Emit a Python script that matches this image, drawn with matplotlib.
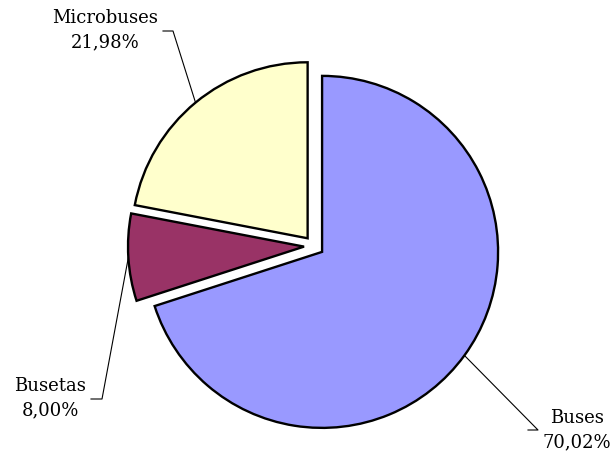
import numpy as np
import matplotlib.pyplot as plt

# --- Data ---
labels = ["Buses", "Busetas", "Microbuses"]
values = [70.02, 8.00, 21.98]
colors = ["#9999FF", "#993366", "#FFFFCC"]
pct_text = ["70,02%", "8,00%", "21,98%"]

W, H = 613, 452
fig = plt.figure(figsize=(W / 100, H / 100), dpi=100)
ax = fig.add_axes([0, 0, 1, 1])

# pixel coords -> data coords (y up)
def px(x, y):
    return x, H - y

cx, cy = px(314, 247)
R = 176
# explode is in data units here (pixels)
wedges, _ = ax.pie(values, colors=colors, startangle=90, counterclock=False,
                   center=(cx, cy), radius=R, explode=[10] * 3,
                   wedgeprops=dict(edgecolor="black", linewidth=1.7))
ax.set_xlim(0, W)
ax.set_ylim(0, H)
ax.set_aspect("equal")
ax.axis("off")

# label text centres and leader-line elbows (pixels)
text_pos = {"Buses": (577, 430), "Busetas": (50, 398), "Microbuses": (105, 30)}
elbows = {"Buses": [(528, 431), (538, 431)],
          "Busetas": [(91, 400), (102, 400)],
          "Microbuses": [(163, 32), (173, 32)]}

font = dict(family="DejaVu Serif", fontsize=13, color="black")
for w, lab, pct in zip(wedges, labels, pct_text):
    # leader line ends on the arc at the wedge's mid angle
    mid = np.deg2rad((w.theta1 + w.theta2) / 2)
    ax0, ay0 = w.center
    anchor = (ax0 + w.r * np.cos(mid), ay0 + w.r * np.sin(mid))
    (e1x, e1y), (e2x, e2y) = [px(*p) for p in elbows[lab]]
    ax.plot([e1x, e2x, anchor[0]], [e1y, e2y, anchor[1]],
            color="black", linewidth=0.8)
    tx, ty = px(*text_pos[lab])
    ax.text(tx, ty, f"{lab}\n{pct}", ha="center", va="center",
            linespacing=1.45, **font)

fig.savefig("out.png", dpi=100)
